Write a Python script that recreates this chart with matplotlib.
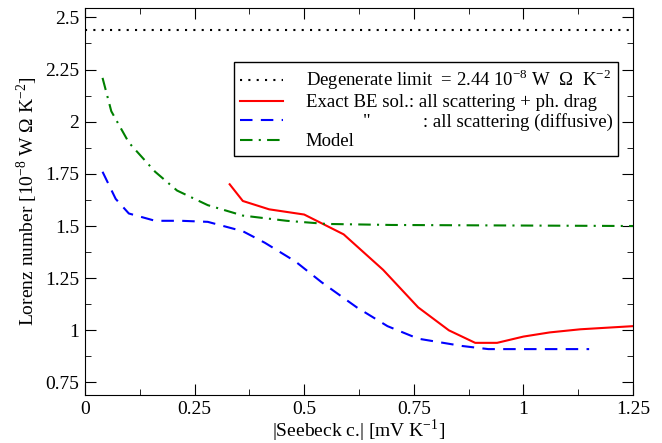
import matplotlib
matplotlib.use("Agg")
import matplotlib.pyplot as plt
from matplotlib.ticker import MultipleLocator

plt.rcParams['font.family'] = ['Liberation Serif', 'DejaVu Serif']
plt.rcParams['mathtext.fontset'] = 'custom'
plt.rcParams['mathtext.rm'] = 'Liberation Serif'

red_x = [0.33,0.36,0.42,0.5,0.59,0.68,0.76,0.83,0.89,0.94,1.0,1.06,1.13,1.25]
red_y = [1.70,1.62,1.58,1.555,1.46,1.29,1.11,1.0,0.94,0.94,0.97,0.99,1.005,1.02]
blue_x = [0.04,0.07,0.1,0.16,0.22,0.28,0.36,0.41,0.48,0.54,0.62,0.69,0.76,0.86,0.92,1.0,1.15]
blue_y = [1.76,1.63,1.56,1.525,1.525,1.52,1.475,1.42,1.33,1.23,1.11,1.02,0.96,0.925,0.91,0.91,0.91]
green_x = [0.04,0.06,0.1,0.16,0.21,0.28,0.36,0.46,0.55,0.7,1.25]
green_y = [2.21,2.05,1.9,1.76,1.67,1.6,1.55,1.525,1.51,1.505,1.5]
degenerate = 2.44

fig = plt.figure(figsize=(6.62,4.43), dpi=100)
ax = fig.add_axes([85/662, 1-395/443, 548/662, 387/443])
ax.axhline(degenerate, color='black', ls=(0,(1,3)), lw=1.5,
           label=r'Degenerate limit  = 2.44 10$^{-8}$ W  $\Omega$  K$^{-2}$')
ax.plot(red_x, red_y, color='red', lw=1.5, label='Exact BE sol.: all scattering + ph. drag')
ax.plot(blue_x, blue_y, color='blue', lw=1.5, ls=(0,(6,4)), label='            "           : all scattering (diffusive)')
ax.plot(green_x, green_y, color='green', lw=1.5, ls=(0,(6,3,1,3)), label='Model')
ax.set_xlim(0,1.25)
ax.set_ylim(0.69,2.545)
ax.xaxis.set_minor_locator(MultipleLocator(0.125))
ax.yaxis.set_minor_locator(MultipleLocator(0.125))
ax.set_xticks([0,0.25,0.5,0.75,1,1.25], ['0','0.25','0.5','0.75','1','1.25'])
ax.set_yticks([0.75,1,1.25,1.5,1.75,2,2.25,2.5], ['0.75','1','1.25','1.5','1.75','2','2.25','2.5'])
ax.tick_params(direction='in', which='both', top=True, right=True, labelsize=14, pad=4)
ax.tick_params(which='major', length=8)
ax.tick_params(which='minor', length=4)
ax.set_xlabel(r'|Seebeck c.| [mV K$^{-1}$]', fontsize=14, labelpad=0)
ax.set_ylabel(r'Lorenz number [10$^{-8}$ W $\Omega$ K$^{-2}$]', fontsize=14)
leg = ax.legend(loc='upper right', bbox_to_anchor=(0.99, 0.885), fontsize=13.5, fancybox=False,
                edgecolor='black', framealpha=1, handlelength=2.3, borderpad=0.3, labelspacing=0.1,
                handletextpad=1.2)
leg.get_frame().set_linewidth(1)
fig.savefig('out.png', dpi=100)
